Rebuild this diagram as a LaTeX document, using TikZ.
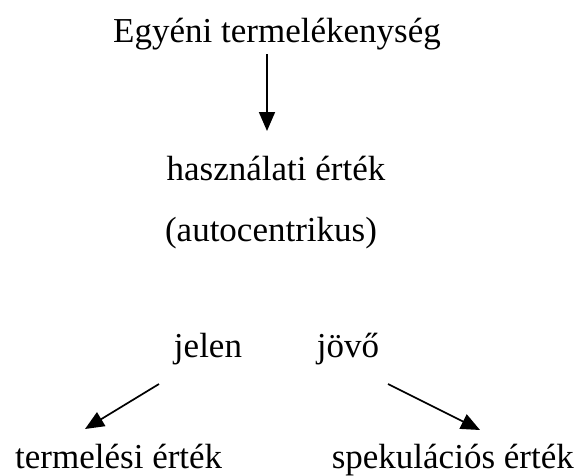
\documentclass[tikz,border=0pt]{standalone}
\usepackage{fontspec}
\setmainfont{Liberation Serif}
\usetikzlibrary{arrows.meta}
\begin{document}
\begin{tikzpicture}[x=1pt,y=-1pt,
  lbl/.style={inner sep=0pt,font=\fontsize{35}{40}\selectfont},
  arr/.style={line width=1.7pt,-{Triangle[length=19pt,width=16pt]}}]
\useasboundingbox (0,0) rectangle (579,475);
\node[lbl,anchor=base] (top) at (277,42) {Egyéni termelékenység};
\node[lbl,anchor=base] (use) at (276,180) {használati érték};
\node[lbl,anchor=base] (auto) at (271,241) {(autocentrikus)};
\node[lbl,anchor=base] (jelen) at (208,357) {jelen};
\node[lbl,anchor=base] (jovo) at (348,357) {jövő};
\node[lbl,anchor=base west] (prod) at (15,468) {termelési érték};
\node[lbl,anchor=base east] (spek) at (574,468) {spekulációs érték};
\coordinate (a1) at (267,54);
\coordinate (a2) at (267,131);
\coordinate (b1) at (159,384);
\coordinate (b2) at (85,429);
\coordinate (c1) at (388,384);
\coordinate (c2) at (480,430);
\draw[arr] (a1) -- (a2);
\draw[arr] (b1) -- (b2);
\draw[arr] (c1) -- (c2);
\end{tikzpicture}
\end{document}
